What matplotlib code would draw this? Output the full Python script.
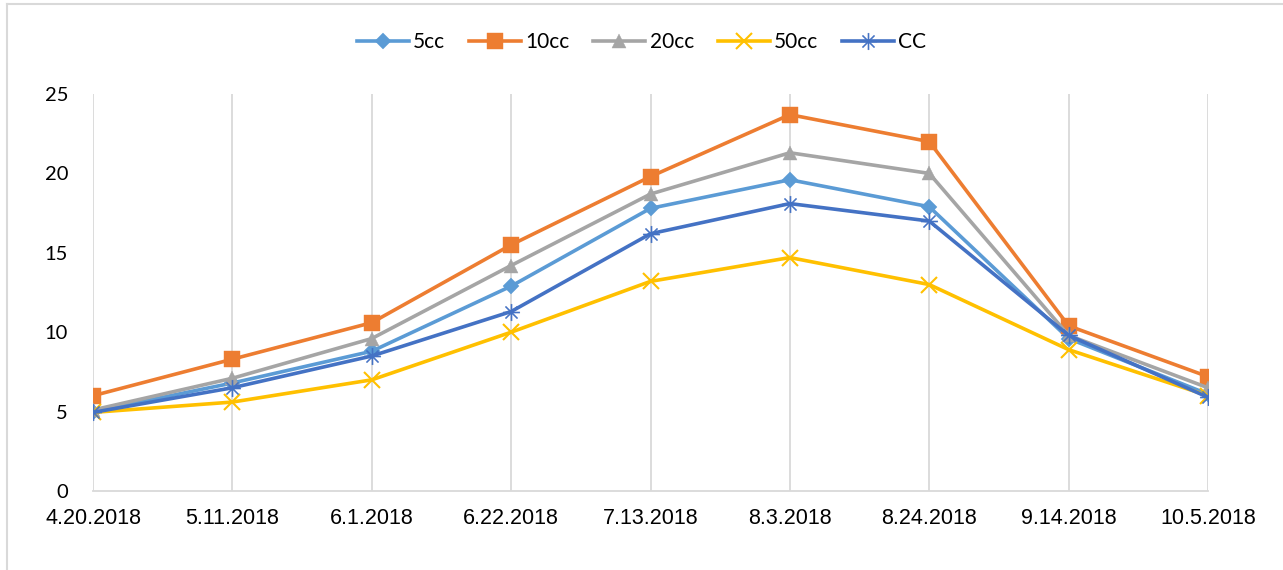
import numpy as np
import matplotlib
matplotlib.use("Agg")
import matplotlib.pyplot as plt
from matplotlib.lines import Line2D

# 日期
dates = ['4.20.2018', '5.11.2018', '6.1.2018', '6.22.2018', '7.13.2018',
         '8.3.2018', '8.24.2018', '9.14.2018', '10.5.2018']

# 各系列数值
cc5 = [5.0, 6.8, 8.8, 12.9, 17.8, 19.6, 17.9, 9.6, 6.1]
cc10 = [6.0, 8.3, 10.6, 15.5, 19.8, 23.7, 22.0, 10.4, 7.2]
cc20 = [5.1, 7.1, 9.6, 14.2, 18.7, 21.3, 20.0, 9.8, 6.5]
cc50 = [4.95, 5.6, 7.0, 10.0, 13.2, 14.7, 13.0, 8.9, 6.0]
cc = [4.95, 6.5, 8.5, 11.3, 16.2, 18.1, 17.0, 9.8, 5.9]

names = ['5cc', '10cc', '20cc', '50cc', 'CC']
series = [cc5, cc10, cc20, cc50, cc]
colors = ['#5B9BD5', '#ED7D31', '#A5A5A5', '#FFC000', '#4472C4']
markers = ['D', 's', '^', 'x', '$\u2733$']
msizes = [8, 11, 10, 11, 12]

plt.rcParams['font.family'] = ['Lato', 'DejaVu Sans']

fig = plt.figure(figsize=(12.83, 5.70), dpi=100)
ax = fig.add_axes([93 / 1283, 1 - 491 / 570, (1208 - 93) / 1283, (491 - 94) / 570])

x = np.arange(len(dates))
for name, vals, c, m, ms in zip(names, series, colors, markers, msizes):
    kw = dict(markeredgewidth=1.5) if m == 'x' else dict(markeredgewidth=0.3)
    ax.plot(x, vals, color=c, linewidth=2.6, marker=m, markersize=ms,
            markerfacecolor=c, markeredgecolor=c, label=name, zorder=3, **kw)

ax.set_xlim(0, len(dates) - 1)
ax.set_ylim(0, 25)
ax.set_yticks([0, 5, 10, 15, 20, 25])
ax.set_xticks(x)
ax.set_xticklabels(dates, fontsize=15.5, family=['Liberation Sans', 'DejaVu Sans'])
ax.tick_params(axis='y', labelsize=14.5, length=0, pad=18)
ax.tick_params(axis='x', length=0, pad=12)

ax.grid(axis='x', color='#D9D9D9', linewidth=1.3, zorder=0)
for s in ['top', 'right', 'left']:
    ax.spines[s].set_visible(False)
ax.spines['bottom'].set_color('#D9D9D9')
ax.spines['bottom'].set_linewidth(1.3)

ax.legend(loc='center', bbox_to_anchor=(0.5, 1 - 42 / 570), bbox_transform=fig.transFigure,
          ncol=5, frameon=False, fontsize=15, handlelength=2.5, handletextpad=0.2,
          columnspacing=1.15)

# 外框(上、左)
fig.add_artist(Line2D([7 / 1283, 1], [1 - 4 / 570, 1 - 4 / 570], color='#D9D9D9', linewidth=1.5))
fig.add_artist(Line2D([7 / 1283, 7 / 1283], [0, 1 - 4 / 570], color='#D9D9D9', linewidth=1.5))

fig.savefig('out.png', dpi=100)
